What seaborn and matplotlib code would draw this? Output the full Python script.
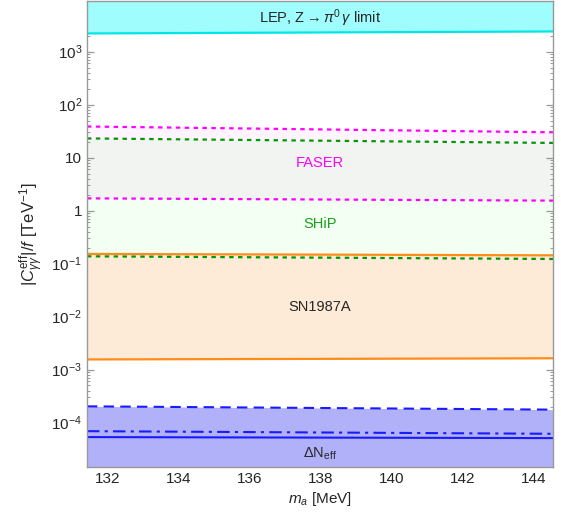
import numpy as np
import pandas as pd
import matplotlib
matplotlib.use("Agg")
import matplotlib.pyplot as plt
import matplotlib.ticker as mticker
import seaborn as sns

# axion mass grid (MeV), read at the plot edges
m_a = [131.42, 144.55]

# coupling bounds |C_gg^eff|/f in TeV^-1
lep_limit = [2200, 2400]
faser_upper = [38.6, 30.0]
faser_lower = [1.70, 1.54]
ship_upper = [23.0, 18.9]
ship_lower = [0.137, 0.122]
sn_upper = [0.152, 0.143]
sn_lower = [1.55e-3, 1.63e-3]
neff_dashed = [2.02e-4, 1.75e-4]
neff_dashdot = [6.87e-5, 6.13e-5]
neff_solid = [5.31e-5, 5.08e-5]

# y tick decades shown on the axis
y_decades = [-4, -3, -2, -1, 0, 1, 2, 3]

y_top, y_bottom = 9.0e3, 1.45e-5

sns.set_style("ticks")
plt.rcParams['font.family'] = ['Liberation Sans', 'DejaVu Sans']
plt.rcParams['mathtext.fontset'] = 'custom'
plt.rcParams['mathtext.rm'] = 'Liberation Sans'
plt.rcParams['mathtext.it'] = 'Liberation Sans:italic'

fig = plt.figure(figsize=(5.61, 5.20), dpi=100)
ax = fig.add_axes([0.155, 0.102, 0.831, 0.896])

# filled regions
ax.fill_between(m_a, lep_limit, y_top, color='#9ffdfd', lw=0)
ax.fill_between(m_a, faser_lower, faser_upper, color='#ff00ff', alpha=0.045, lw=0)
ax.fill_between(m_a, ship_lower, ship_upper, color='#00ff00', alpha=0.05, lw=0)
ax.fill_between(m_a, sn_lower, sn_upper, color='#fdead7', lw=0)
ax.fill_between(m_a, y_bottom, neff_dashed, color='#b1b1fa', lw=0)

# boundary lines
sns.lineplot(x=m_a, y=lep_limit, ax=ax, color='#00e6e6', lw=1.6)
sns.lineplot(x=m_a, y=sn_upper, ax=ax, color='#ff8c1a', lw=1.6)
sns.lineplot(x=m_a, y=sn_lower, ax=ax, color='#ff8c1a', lw=1.6)
dots = (0, (2, 2))
sns.lineplot(x=m_a, y=faser_upper, ax=ax, color='#ff00ff', lw=1.6, linestyle=dots)
sns.lineplot(x=m_a, y=faser_lower, ax=ax, color='#ff00ff', lw=1.6, linestyle=dots)
sns.lineplot(x=m_a, y=ship_upper, ax=ax, color='#009900', lw=1.6, linestyle=dots)
sns.lineplot(x=m_a, y=ship_lower, ax=ax, color='#009900', lw=1.6, linestyle=dots)
sns.lineplot(x=m_a, y=neff_dashed, ax=ax, color='#1a1aff', lw=1.5, linestyle=(0, (5, 3)))
sns.lineplot(x=m_a, y=neff_dashdot, ax=ax, color='#1a1aff', lw=1.5, linestyle=(0, (6, 2.5, 1.5, 2.5)))
sns.lineplot(x=m_a, y=neff_solid, ax=ax, color='#1a1aff', lw=1.5)

ax.set_yscale('log')
ax.set_xlim(m_a[0], m_a[1])
ax.set_ylim(y_bottom, y_top)

# region labels
xc = 0.5 * (m_a[0] + m_a[1])
ax.text(xc, 4.3e3, r'LEP, Z$\rightarrow$$\pi^0\,\gamma$ limit', ha='center', va='center', fontsize=10.5)
ax.text(xc, 8.0, 'FASER', ha='center', va='center', fontsize=10.5, color='#ff00ff')
ax.text(xc, 0.55, 'SHiP', ha='center', va='center', fontsize=10.5, color='#1aa01a')
ax.text(xc, 0.0152, 'SN1987A', ha='center', va='center', fontsize=10.5)
ax.text(xc, 2.6e-5, r'$\Delta$N$_{\rm eff}$', ha='center', va='center', fontsize=10.5)

# ticks
ax.xaxis.set_major_locator(mticker.MultipleLocator(2))
ax.xaxis.set_minor_locator(mticker.MultipleLocator(0.5))
ax.yaxis.set_major_locator(mticker.FixedLocator([10.0 ** e for e in y_decades]))
minor = [k * 10.0 ** e for e in [-5] + y_decades for k in range(2, 10)]
ax.yaxis.set_minor_locator(mticker.FixedLocator([v for v in minor if y_bottom < v < y_top]))
ax.yaxis.set_minor_formatter(mticker.NullFormatter())

def ylab(v, pos):
    e = int(round(np.log10(v)))
    if e == 0:
        return '1'
    if e == 1:
        return '10'
    return r'$10^{%d}$' % e

ax.yaxis.set_major_formatter(mticker.FuncFormatter(ylab))
ax.tick_params(which='both', direction='in', top=True, right=True, color='#999999', labelsize=11)
ax.tick_params(which='major', length=5, width=0.9)
ax.tick_params(which='minor', length=2.5, width=0.7)
for s in ax.spines.values():
    s.set_color('#999999')
    s.set_linewidth(1.0)

ax.set_xlabel(r'$m_a$ [MeV]', fontsize=11, labelpad=3)
ax.set_ylabel(r'$|C^{\rm eff}_{\gamma\gamma}|/f$ [TeV$^{-1}$]', fontsize=12, labelpad=4)

plt.savefig('out.png', dpi=100)
